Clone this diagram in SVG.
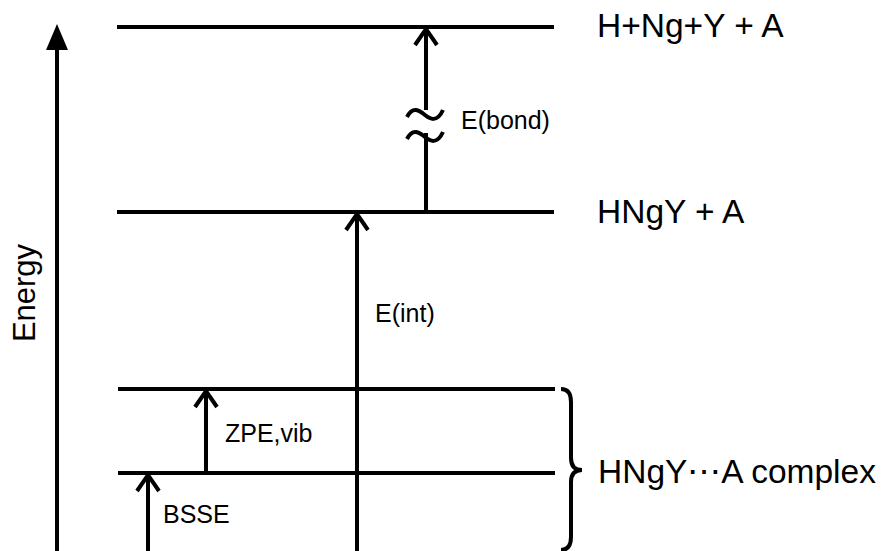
<svg xmlns="http://www.w3.org/2000/svg" width="883" height="551" viewBox="0 0 883 551">
<style>
.lvl{stroke:#000;stroke-width:4;fill:none}
.arr{stroke:#000;stroke-width:4;fill:none;stroke-linejoin:miter}
.t{font-family:"Liberation Sans",Arial,sans-serif;fill:#000}
.big{font-size:33.5px}
.sm{font-size:25px}
</style>
<rect width="883" height="551" fill="#fff"/>
<g id="axis">
<line class="arr" x1="57" y1="551" x2="57" y2="46"/>
<polygon points="57,24 68,50 46,50" fill="#000"/>
<text class="t" font-size="31" text-anchor="middle" transform="translate(35,293) rotate(-90)">Energy</text>
</g>
<g id="level-dissociated">
<line class="lvl" x1="117" y1="27" x2="554" y2="27"/>
<text class="t big" x="597" y="37">H+Ng+Y + A</text>
</g>
<g id="level-monomer">
<line class="lvl" x1="117" y1="212" x2="554" y2="212"/>
<text class="t big" x="597" y="223">HNgY + A</text>
</g>
<g id="level-complex-upper">
<line class="lvl" x1="118" y1="389" x2="555" y2="389"/>
</g>
<g id="level-complex-lower">
<line class="lvl" x1="118" y1="473" x2="555" y2="473"/>
</g>
<g id="complex-brace">
<path class="arr" stroke-width="4.5" d="M561,389 Q571,389 571,402 L571,458 Q571,470 582,470 Q571,470 571,482 L571,537 Q571,550 561,550"/>
<text class="t" font-size="33.5" x="598" y="483">HNgY⋯A complex</text>
</g>
<g id="connectors">
<path class="arr" d="M426,212 L426,133 M426,110 L426,29 M415,45 L426,29 L437,45"/>
<path class="arr" d="M407,117 C413,105 420,111 425,115 C430,119 437,123 443,110"/>
<path class="arr" d="M407,139 C413,127 420,133 425,137 C430,141 437,145 443,132"/>
<path class="arr" d="M357,551 L357,214 M346,230 L357,214 L368,230"/>
<path class="arr" d="M206,473 L206,391 M195,407 L206,391 L217,407"/>
<path class="arr" d="M148,551 L148,475 M137,491 L148,475 L159,491"/>
</g>
<g id="labels">
<text class="t sm" x="461" y="129">E(bond)</text>
<text class="t sm" x="375" y="322">E(int)</text>
<text class="t sm" x="225" y="442">ZPE,vib</text>
<text class="t sm" x="163" y="523">BSSE</text>
</g>
</svg>
